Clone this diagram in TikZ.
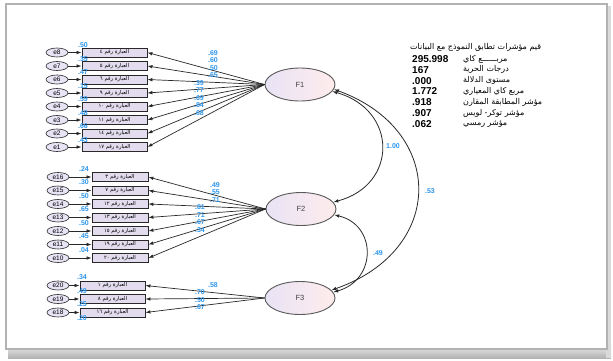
\documentclass[tikz,border=0pt]{standalone}
\usepackage{fontspec}
\setmainfont{Liberation Sans}
\newfontfamily\arabicfont[Script=Arabic]{DejaVu Sans}
\TeXXeTstate=1
\usetikzlibrary{arrows.meta,shapes.geometric}
\definecolor{coefblue}{RGB}{45,150,235}
\definecolor{lavender}{RGB}{232,227,245}
\definecolor{boxfill}{RGB}{226,220,238}
\definecolor{linegray}{RGB}{40,40,40}
\tikzset{
  err/.style={ellipse, draw=linegray, line width=0.6pt, fill=lavender, minimum width=22pt, minimum height=9pt, inner sep=0pt, font=\fontsize{6.5}{6.5}\selectfont},
  item/.style={rectangle, draw=linegray, line width=0.8pt, fill=boxfill, minimum height=9pt, inner sep=0pt, font=\arabicfont\fontsize{5.3}{5.3}\selectfont},
  factor/.style={ellipse, draw=gray!70!black, line width=0.9pt, left color=lavender, right color=pink!30, minimum width=70pt, minimum height=33pt, inner sep=0pt, text=darkgray, font=\fontsize{7.5}{7.5}\selectfont},
  load/.style={-{Latex[length=5pt,width=3.5pt]}, line width=0.7pt, linegray},
  cov/.style={{Latex[length=5pt,width=3.5pt]}-{Latex[length=5pt,width=3.5pt]}, line width=0.8pt, linegray},
  coef/.style={text=coefblue, inner sep=0pt, font=\bfseries\fontsize{7}{7}\selectfont},
  fitnum/.style={anchor=west, inner sep=0pt, font=\bfseries\fontsize{10}{10}\selectfont},
  fitname/.style={anchor=west, inner sep=0pt, font=\arabicfont\fontsize{8}{8}\selectfont},
}
\begin{document}
\begin{tikzpicture}[x=1pt, y=-1pt]
  \useasboundingbox (0,0) rectangle (613,360);

  % Frame
  \fill[white] (0,0) rectangle (613,360);
  \shade[top color=gray!15, bottom color=gray!60] (8,345) rectangle (611,358);
  \fill[gray!30] (606,6) rectangle (611,358);
  \fill[white] (6,4) rectangle (607,349);
  \draw[gray!60, line width=1.4pt] (6,4) rectangle (607,349);

  % Factors
  \node[factor] (F1) at (300,84.5) {F1};
  \node[factor] (F2) at (301,209) {F2};
  \node[factor] (F3) at (300,298) {F3};

  % F1 items
  \node[err] (e8) at (57,52.5) {e8};
  \node[err] (e7) at (57,66) {e7};
  \node[err] (e6) at (57,79.5) {e6};
  \node[err] (e5) at (57,93) {e5};
  \node[err] (e4) at (57,106.5) {e4};
  \node[err] (e3) at (57,120) {e3};
  \node[err] (e2) at (57,133.5) {e2};
  \node[err] (e1) at (57,147) {e1};
  \node[item, minimum width=65pt] (q4) at (114.5,52.5) {\beginR العبارة رقم ٤\endR};
  \node[item, minimum width=65pt] (q5) at (114.5,66) {\beginR العبارة رقم ٥\endR};
  \node[item, minimum width=65pt] (q6) at (114.5,79.5) {\beginR العبارة رقم ٦\endR};
  \node[item, minimum width=65pt] (q9) at (114.5,93) {\beginR العبارة رقم ٩\endR};
  \node[item, minimum width=65pt] (q10) at (114.5,106.5) {\beginR العبارة رقم ١٠\endR};
  \node[item, minimum width=65pt] (q11) at (114.5,120) {\beginR العبارة رقم ١١\endR};
  \node[item, minimum width=65pt] (q14) at (114.5,133.5) {\beginR العبارة رقم ١٤\endR};
  \node[item, minimum width=65pt] (q17) at (114.5,147) {\beginR العبارة رقم ١٧\endR};
  \draw[load] (e8) -- (q4);
  \draw[load] (e7) -- (q5);
  \draw[load] (e6) -- (q6);
  \draw[load] (e5) -- (q9);
  \draw[load] (e4) -- (q10);
  \draw[load] (e3) -- (q11);
  \draw[load] (e2) -- (q14);
  \draw[load] (e1) -- (q17);
  \draw[load] (F1.west) -- (q4.east);
  \draw[load] (F1.west) -- (q5.east);
  \draw[load] (F1.west) -- (q6.east);
  \draw[load] (F1.west) -- (q9.east);
  \draw[load] (F1.west) -- (q10.east);
  \draw[load] (F1.west) -- (q11.east);
  \draw[load] (F1.west) -- (q14.east);
  \draw[load] (F1.west) -- (q17.east);

  % F2 items
  \node[err] (e16) at (58,177) {e16};
  \node[err] (e15) at (58,190.5) {e15};
  \node[err] (e14) at (58,204) {e14};
  \node[err] (e13) at (58,217.5) {e13};
  \node[err] (e12) at (58,231) {e12};
  \node[err] (e11) at (58,244.5) {e11};
  \node[err] (e10) at (58,258) {e10};
  \node[item, minimum width=56pt] (q3) at (120,177) {\beginR العبارة رقم ٣\endR};
  \node[item, minimum width=56pt] (q7) at (120,190.5) {\beginR العبارة رقم ٧\endR};
  \node[item, minimum width=56pt] (q12) at (120,204) {\beginR العبارة رقم ١٢\endR};
  \node[item, minimum width=56pt] (q13) at (120,217.5) {\beginR العبارة رقم ١٣\endR};
  \node[item, minimum width=56pt] (q15) at (120,231) {\beginR العبارة رقم ١٥\endR};
  \node[item, minimum width=56pt] (q19) at (120,244.5) {\beginR العبارة رقم ١٩\endR};
  \node[item, minimum width=56pt] (q20) at (120,258) {\beginR العبارة رقم ٢٠\endR};
  \draw[load] (e16) -- (q3);
  \draw[load] (e15) -- (q7);
  \draw[load] (e14) -- (q12);
  \draw[load] (e13) -- (q13);
  \draw[load] (e12) -- (q15);
  \draw[load] (e11) -- (q19);
  \draw[load] (e10) -- (q20);
  \draw[load] (F2.west) -- (q3.east);
  \draw[load] (F2.west) -- (q7.east);
  \draw[load] (F2.west) -- (q12.east);
  \draw[load] (F2.west) -- (q13.east);
  \draw[load] (F2.west) -- (q15.east);
  \draw[load] (F2.west) -- (q19.east);
  \draw[load] (F2.west) -- (q20.east);

  % F3 items
  \node[err] (e20) at (58,285.5) {e20};
  \node[err] (e19) at (58,299) {e19};
  \node[err] (e18) at (58,312.5) {e18};
  \node[item, minimum width=65pt] (q1) at (112.5,285.5) {\beginR العبارة رقم ١\endR};
  \node[item, minimum width=65pt] (q8) at (112.5,299) {\beginR العبارة رقم ٨\endR};
  \node[item, minimum width=65pt] (q16) at (112.5,312.5) {\beginR العبارة رقم ١٦\endR};
  \draw[load] (e20) -- (q1);
  \draw[load] (e19) -- (q8);
  \draw[load] (e18) -- (q16);
  \draw[load] (F3.west) -- (q1.east);
  \draw[load] (F3.west) -- (q8.east);
  \draw[load] (F3.west) -- (q16.east);

  % Squared multiple correlations
  \node[coef] (r8) at (83,45.5) {.50};
  \node[coef] (r7) at (83,59) {.35};
  \node[coef] (r6) at (83,72.5) {.47};
  \node[coef] (r5) at (83,86) {.15};
  \node[coef] (r4) at (83,99.5) {.59};
  \node[coef] (r3) at (83,113) {.48};
  \node[coef] (r2) at (83,126.5) {.66};
  \node[coef] (r1) at (83,140) {.43};
  \node[coef] (r16) at (84,169) {.24};
  \node[coef] (r15) at (84,182.5) {.30};
  \node[coef] (r14) at (84,196) {.50};
  \node[coef] (r13) at (84,209.5) {.65};
  \node[coef] (r12) at (84,223) {.50};
  \node[coef] (r11) at (84,236.5) {.45};
  \node[coef] (r10) at (84,250) {.04};
  \node[coef] (r20) at (82,277.5) {.34};
  \node[coef] (r19) at (82,291) {.49};
  \node[coef] (r18) at (82,304.5) {.25};
  \node[coef] (r17) at (82,318) {.20};

  % Loadings
  \node[coef] (w1) at (213,53) {.69};
  \node[coef] (w2) at (213,60.5) {.60};
  \node[coef] (w3) at (213,68) {.50};
  \node[coef] (w4) at (213,75.5) {.65};
  \node[coef] (w5) at (199,83) {.39};
  \node[coef] (w6) at (199,90.5) {.77};
  \node[coef] (w7) at (199,98) {.69};
  \node[coef] (w8) at (199,105.5) {.84};
  \node[coef] (w9) at (199,113) {.68};
  \node[coef] (w10) at (215,185) {.49};
  \node[coef] (w11) at (215,192.5) {.55};
  \node[coef] (w12) at (215,200) {.71};
  \node[coef] (w13) at (200,207.5) {.81};
  \node[coef] (w14) at (200,215) {.71};
  \node[coef] (w15) at (200,222.5) {.67};
  \node[coef] (w16) at (200,230) {.34};
  \node[coef] (w17) at (213,285) {.58};
  \node[coef] (w18) at (200,292.5) {.70};
  \node[coef] (w19) at (200,300) {.50};
  \node[coef] (w20) at (200,307.5) {.67};

  % Covariances
  \draw[cov] (F1.-12) .. controls (398,110) and (398,185) .. (F2.12);
  \draw[cov] (F1.-8) .. controls (446,130) and (446,250) .. (F3.14);
  \draw[cov] (F2.-10) .. controls (377,225) and (377,280) .. (F3.10);
  \node[coef] (c12) at (393,146) {1.00};
  \node[coef] (c13) at (430,191) {.53};
  \node[coef] (c23) at (378,253) {.49};

  % Fit indices
  \node[fitname] (fithead) at (410,47) {\beginR قيم مؤشرات تطابق النموذج مع البيانات\endR};
  \node[fitnum] (v1) at (412,59) {295.998};
  \node[fitnum] (v2) at (412,69.8) {167};
  \node[fitnum] (v3) at (412,80.6) {.000};
  \node[fitnum] (v4) at (412,91.4) {1.772};
  \node[fitnum] (v5) at (412,102.2) {.918};
  \node[fitnum] (v6) at (412,113) {.907};
  \node[fitnum] (v7) at (412,123.8) {.062};
  \node[fitname] (n1) at (463,59) {\beginR مربــــــع كاي\endR};
  \node[fitname] (n2) at (463,69.8) {\beginR درجات الحرية\endR};
  \node[fitname] (n3) at (463,80.6) {\beginR مستوى الدلالة\endR};
  \node[fitname] (n4) at (463,91.4) {\beginR مربع كاي المعياري\endR};
  \node[fitname] (n5) at (463,102.2) {\beginR مؤشر المطابقة المقارن\endR};
  \node[fitname] (n6) at (463,113) {\beginR مؤشر توكر- لويس\endR};
  \node[fitname] (n7) at (463,123.8) {\beginR مؤشر رمسي\endR};
\end{tikzpicture}
\end{document}
